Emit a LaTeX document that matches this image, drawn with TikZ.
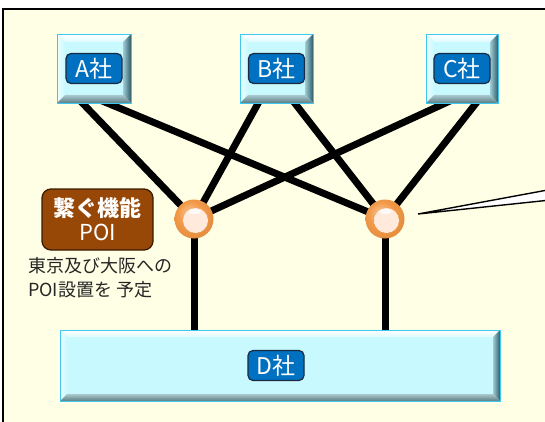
\documentclass[tikz,border=0pt]{standalone}
\usepackage{fontspec}
\newfontfamily\jp{Noto Sans CJK JP}
\usetikzlibrary{calc,shapes.misc}
\pgfdeclarelayer{back}
\pgfdeclarelayer{mid}
\pgfsetlayers{back,mid,main}
\definecolor{bgy}{HTML}{FFFFE6}
\definecolor{boxface}{HTML}{C8F9FF}
\definecolor{boxline}{HTML}{3CC8F0}
\definecolor{labblue}{HTML}{0070C0}
\definecolor{labline}{HTML}{1A2A40}
\definecolor{brown}{HTML}{974706}
\definecolor{brownline}{HTML}{3A1C00}
\definecolor{ringin}{HTML}{F29A48}
\definecolor{ringout}{HTML}{9A4A0C}
\definecolor{peachin}{HTML}{FFEADB}
\definecolor{peachout}{HTML}{F0B48A}
\definecolor{bvr1}{HTML}{9FCCD4}
\definecolor{bvr2}{HTML}{2E5C68}
\definecolor{bvb1}{HTML}{A9C9CE}
\definecolor{bvb2}{HTML}{5E7E86}
\pgfdeclareradialshading{ring}{\pgfpoint{-7bp}{9bp}}{color(0bp)=(ringin!60!white); color(16bp)=(ringin); color(36bp)=(ringin!75!ringout); color(50bp)=(ringout)}
\pgfdeclareradialshading{peach}{\pgfpoint{-3bp}{5bp}}{color(0bp)=(peachin); color(26bp)=(peachin); color(50bp)=(peachout)}
\tikzset{
  bevelbox/.style={rectangle, draw=boxline, line width=0.9pt, fill=boxface, inner sep=0pt,
    path picture={
      \coordinate (pnw) at (path picture bounding box.north west);
      \coordinate (pne) at (path picture bounding box.north east);
      \coordinate (psw) at (path picture bounding box.south west);
      \coordinate (pse) at (path picture bounding box.south east);
      \shade[top color=white, bottom color=boxface!60!white] (pnw) -- (pne) -- ([shift={(-#1,-#1)}]pne) -- ([shift={(#1,-#1)}]pnw) -- cycle;
      \shade[left color=white!70!boxface, right color=boxface] (pnw) -- ([shift={(#1,-#1)}]pnw) -- ([shift={(#1,#1)}]psw) -- (psw) -- cycle;
      \shade[left color=bvr1, right color=bvr2] (pne) -- (pse) -- ([shift={(-#1,#1)}]pse) -- ([shift={(-#1,-#1)}]pne) -- cycle;
      \shade[top color=bvb1, bottom color=bvb2] (psw) -- (pse) -- ([shift={(-#1,#1)}]pse) -- ([shift={(#1,#1)}]psw) -- cycle;
    }},
  bevelbox/.default=8pt,
  labbox/.style={rectangle, rounded corners=5pt, fill=labblue, draw=labline, line width=1.2pt,
    text=white, font=\jp\fontsize{23}{23}\selectfont, minimum width=56pt, minimum height=30pt, inner sep=0pt},
  sphere/.style={circle, minimum size=39pt, inner sep=0pt, shading=ring,
    path picture={
      \shade[shading=peach] ([shift={(1.5pt,-1.5pt)}]path picture bounding box.center) circle (12.5pt);
      \fill[white, opacity=0.8] ([shift={(0.5pt,7.5pt)}]path picture bounding box.center) ellipse (6pt and 2.6pt);
    }},
  link/.style={line width=7pt, black},
  note/.style={font=\jp\fontsize{18}{24}\selectfont, text=black!85, align=left, inner sep=0pt}
}
\begin{document}
\begin{tikzpicture}[x=1pt, y=-1pt]
\useasboundingbox (0,0) rectangle (545,422);
% boxes
\node[bevelbox, minimum width=74pt, minimum height=69pt] (A) at (94,68.5) {};
\node[bevelbox, minimum width=73pt, minimum height=69pt] (B) at (276.5,68.5) {};
\node[bevelbox, minimum width=72pt, minimum height=69pt] (C) at (462,68.5) {};
\node[bevelbox=7pt, minimum width=440pt, minimum height=71pt] (D) at (280,365.5) {};
\node[labbox] (Al) at (A.center) {A社};
\node[labbox] (Bl) at (B.center) {B社};
\node[labbox] (Cl) at (C.center) {C社};
\node[labbox] (Dl) at (276,365.5) {D社};
% POI spheres
\node[sphere] (L) at (194,219) {};
\node[sphere] (R) at (385,219) {};
% POI label
\node[rectangle, rounded corners=9pt, fill=brown, draw=brownline, line width=1.3pt,
      minimum width=111pt, minimum height=61pt, text=white, align=center, inner sep=0pt,
      font=\jp\fontsize{22}{24}\selectfont] (P) at (97.5,219.5) {\bfseries 繋ぐ機能\\POI};
\node[note, anchor=north west] (N) at (28,257) {東京及び大阪への\\POI設置を 予定};
% link end points on the company boxes
\coordinate (a1) at ($(A.south west)!0.35!(A.south east)$);
\coordinate (a2) at ($(A.south west)!0.69!(A.south east)$);
\coordinate (b1) at ($(B.south west)!0.25!(B.south east)$);
\coordinate (b2) at ($(B.south west)!0.75!(B.south east)$);
\coordinate (c1) at ($(C.south west)!0.26!(C.south east)$);
\coordinate (c2) at ($(C.south west)!0.69!(C.south east)$);
\coordinate (tip) at (418,214);
\coordinate (cu) at (560,187.7);
\coordinate (cl) at (560,199);
\begin{pgfonlayer}{mid}
  \clip (0,0) rectangle (545,422);
  \draw[link] ($(a1)!-8pt!(L.center)$) -- (L.center);
  \draw[link] ($(a2)!-8pt!(R.center)$) -- (R.center);
  \draw[link] ($(b1)!-8pt!(L.center)$) -- (L.center);
  \draw[link] ($(b2)!-8pt!(R.center)$) -- (R.center);
  \draw[link] ($(c1)!-8pt!(L.center)$) -- (L.center);
  \draw[link] ($(c2)!-8pt!(R.center)$) -- (R.center);
  \draw[link] (L.center) -- ([yshift=-3pt]L |- D.north);
  \draw[link] (R.center) -- ([yshift=-3pt]R |- D.north);
  \draw[fill=white, line width=1.4pt, line join=miter] (tip) -- (cu) -- (cl) -- cycle;
\end{pgfonlayer}
\begin{pgfonlayer}{back}
  \fill[white] (0,0) rectangle (545,422);
  \draw[fill=bgy, line width=2.2pt] (3,9) rectangle (570,450);
\end{pgfonlayer}
\end{tikzpicture}
\end{document}
